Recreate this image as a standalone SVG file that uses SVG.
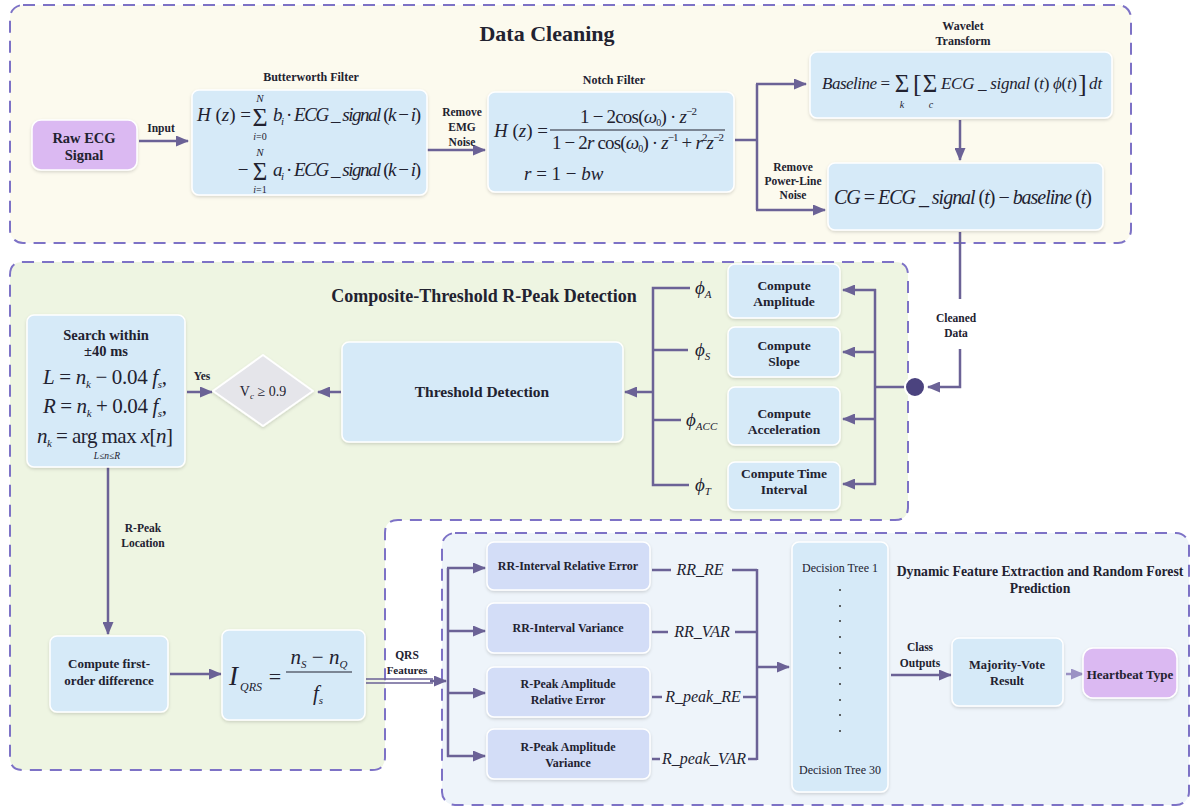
<svg xmlns="http://www.w3.org/2000/svg" width="1194" height="809" viewBox="0 0 1194 809">
<defs>
<style>
text{font-family:"Liberation Serif","Times New Roman",serif;fill:#222230}
.b{font-weight:bold}
.i{font-style:italic}
.lbl{font-size:11.5px;font-weight:bold;text-anchor:middle}
.nd{font-size:13.5px;font-weight:bold;text-anchor:middle}
.fd{font-size:12px;font-weight:bold;text-anchor:middle}
.box{fill:#d6eaf8;stroke:#ffffff;stroke-width:1.5;filter:url(#sh)}
.fbox{fill:#d3ddf7;stroke:#ffffff;stroke-width:1.5;filter:url(#sh)}
.term{fill:#dbb9f2;stroke:#ffffff;stroke-width:1.5;filter:url(#sh)}
.cont{stroke:#7d72c6;stroke-width:2;stroke-dasharray:12 8}
.ln{fill:none;stroke:#6b6296;stroke-width:2.5}
.m{font-style:italic}
.u{font-style:normal}
</style>
<filter id="sh" x="-10%" y="-10%" width="120%" height="130%">
<feDropShadow dx="0" dy="1.5" stdDeviation="1.5" flood-color="#000" flood-opacity="0.15"/>
</filter>
<marker id="arr" markerUnits="userSpaceOnUse" markerWidth="13" markerHeight="11" refX="12" refY="5.5" orient="auto">
<path d="M0,0 L13,5.5 L0,11 z" fill="#6b6296"/>
</marker>
<marker id="arrL" markerUnits="userSpaceOnUse" markerWidth="13" markerHeight="11" refX="12" refY="5.5" orient="auto">
<path d="M0,0 L13,5.5 L0,11 z" fill="#9b92c4"/>
</marker>
</defs>
<rect x="0" y="0" width="1194" height="809" fill="#ffffff"/>

<g id="data-cleaning-container">
<rect class="cont" x="10" y="5" width="1121" height="238" rx="13" fill="#fcfaee"/>
<text x="547" y="41" font-size="22" class="b" text-anchor="middle">Data Cleaning</text>
</g>
<g id="composite-container">
<path class="cont" fill="#eef5e2" d="M10,275 Q10,262 23,262 L895,262 Q908,262 908,275 L908,507 Q908,520 895,520 L398,520 Q385,520 385,533 L385,757 Q385,770 372,770 L23,770 Q10,770 10,757 Z"/>
<text x="484" y="302" font-size="18" class="b" text-anchor="middle">Composite-Threshold  R-Peak  Detection</text>
</g>
<g id="dynamic-container">
<rect class="cont" x="442" y="533" width="747" height="272" rx="13" fill="#eef4fa"/>
<text x="1040" y="576" font-size="13.7" class="b" text-anchor="middle">Dynamic Feature Extraction and Random Forest</text>
<text x="1040" y="593" font-size="13.7" class="b" text-anchor="middle">Prediction</text>
</g>

<g id="connectors">
<path class="ln" d="M139,141 H188" marker-end="url(#arr)"/>
<path class="ln" d="M427,150 H485" marker-end="url(#arr)"/>
<path class="ln" d="M735,140 H757"/>
<path class="ln" d="M757,84 V210"/>
<path class="ln" d="M756,84 H806" marker-end="url(#arr)"/>
<path class="ln" d="M756,210 H825" marker-end="url(#arr)"/>
<path class="ln" d="M960,120 V160" marker-end="url(#arr)"/>
<path class="ln" d="M960,232 V299"/>
<path class="ln" d="M960,349 V387 H928" marker-end="url(#arr)"/>
<path class="ln" d="M905,387 H875"/>
<path class="ln" d="M875,289 V485"/>
<path class="ln" d="M876,290 H843" marker-end="url(#arr)"/>
<path class="ln" d="M876,352 H843" marker-end="url(#arr)"/>
<path class="ln" d="M876,419 H843" marker-end="url(#arr)"/>
<path class="ln" d="M876,484 H843" marker-end="url(#arr)"/>
<path class="ln" d="M690,288 H653 V485 H689"/>
<path class="ln" d="M653,350 H688"/>
<path class="ln" d="M653,420 H681"/>
<path class="ln" d="M653,392 H625" marker-end="url(#arr)"/>
<path class="ln" d="M341,392 H318" marker-end="url(#arr)"/>
<path class="ln" d="M187,392 H212" marker-end="url(#arr)"/>
<path class="ln" d="M108,467 V634" marker-end="url(#arr)"/>
<path class="ln" d="M170,674 H221" marker-end="url(#arr)"/>
<path fill="none" stroke="#6b6296" stroke-width="1.6" d="M366,679 H433 M366,683 H433"/>
<path class="ln" d="M430,681 H446" marker-end="url(#arr)"/>
<path class="ln" d="M448,568 V757"/>
<path class="ln" d="M447,568 H485" marker-end="url(#arr)"/>
<path class="ln" d="M447,631 H485" marker-end="url(#arr)"/>
<path class="ln" d="M447,693 H485" marker-end="url(#arr)"/>
<path class="ln" d="M447,756 H485" marker-end="url(#arr)"/>
<path class="ln" d="M652,570 H671 M732,570 H757 M652,632 H668 M735,632 H757 M652,697 H662 M743,697 H757 M652,759 H660 M748,759 H757"/>
<path class="ln" d="M757,569 V760"/>
<path class="ln" d="M756,667 H789" marker-end="url(#arr)"/>
<path class="ln" d="M891,675 H951" marker-end="url(#arr)"/>
<path fill="none" stroke="#9b92c4" stroke-width="2.5" d="M1066,674 H1083" marker-end="url(#arrL)"/>
</g>

<g id="edge-labels">
<text class="lbl" x="161" y="132">Input</text>
<text class="lbl" x="462" y="116">Remove</text>
<text class="lbl" x="462" y="131">EMG</text>
<text class="lbl" x="462" y="146">Noise</text>
<text class="lbl" x="793" y="171">Remove</text>
<text class="lbl" x="793" y="185">Power-Line</text>
<text class="lbl" x="793" y="199">Noise</text>
<text class="lbl" x="956" y="322">Cleaned</text>
<text class="lbl" x="956" y="337">Data</text>
<text class="lbl" x="202" y="380">Yes</text>
<text class="lbl" x="143" y="532">R-Peak</text>
<text class="lbl" x="143" y="547">Location</text>
<text class="lbl" x="407" y="659">QRS</text>
<text class="lbl" x="407" y="674" style="font-size:11px">Features</text>
<text class="lbl" x="920" y="651">Class</text>
<text class="lbl" x="920" y="667">Outputs</text>
<text x="695" y="294" font-size="19" class="i">ϕ<tspan font-size="11" dy="4">A</tspan></text>
<text x="695" y="356" font-size="19" class="i">ϕ<tspan font-size="11" dy="4">S</tspan></text>
<text x="686" y="426" font-size="19" class="i">ϕ<tspan font-size="11" dy="4">ACC</tspan></text>
<text x="695" y="491" font-size="19" class="i">ϕ<tspan font-size="11" dy="4">T</tspan></text>
<text x="700" y="575" font-size="16" class="i" text-anchor="middle">RR_RE</text>
<text x="702" y="637" font-size="16" class="i" text-anchor="middle">RR_VAR</text>
<text x="703" y="702" font-size="16" class="i" text-anchor="middle">R_peak_RE</text>
<text x="704" y="764" font-size="16" class="i" text-anchor="middle">R_peak_VAR</text>
</g>

<g id="raw-ecg">
<rect class="term" x="32" y="120" width="105" height="50" rx="9"/>
<text class="nd" style="font-size:14.5px" x="84" y="143">Raw ECG</text>
<text class="nd" style="font-size:14.5px" x="84" y="160">Signal</text>
</g>

<g id="butterworth">
<text x="311" y="81" font-size="12" class="b" text-anchor="middle">Butterworth Filter</text>
<rect class="box" x="192" y="90" width="235" height="105" rx="7"/>
<text x="197" y="121" font-size="19" class="m">H<tspan class="u"> (</tspan>z<tspan class="u">) =</tspan></text>
<text x="260" y="126" font-size="26" text-anchor="middle">Σ</text>
<text x="260" y="102" font-size="11" class="m" text-anchor="middle">N</text>
<text x="260" y="140" font-size="10" class="m" text-anchor="middle">i<tspan class="u">=0</tspan></text>
<text x="273" y="121" font-size="19" class="m" textLength="148">b<tspan font-size="11" dy="4">i</tspan><tspan dy="-4" class="u"> · </tspan>ECG _ signal<tspan class="u"> (</tspan>k<tspan class="u"> − </tspan>i<tspan class="u">)</tspan></text>
<text x="243" y="176" font-size="19" text-anchor="middle">−</text>
<text x="260" y="180" font-size="25" text-anchor="middle">Σ</text>
<text x="260" y="156" font-size="11" class="m" text-anchor="middle">N</text>
<text x="260" y="193" font-size="10" class="m" text-anchor="middle">i<tspan class="u">=1</tspan></text>
<text x="273" y="176" font-size="19" class="m" textLength="148">a<tspan font-size="11" dy="4">i</tspan><tspan dy="-4" class="u"> · </tspan>ECG _ signal<tspan class="u"> (</tspan>k<tspan class="u"> − </tspan>i<tspan class="u">)</tspan></text>
</g>

<g id="notch">
<text x="614" y="84" font-size="12" class="b" text-anchor="middle">Notch Filter</text>
<rect class="box" x="488" y="92" width="246" height="100" rx="7"/>
<text x="494" y="137" font-size="19" class="m">H<tspan class="u"> (</tspan>z<tspan class="u">) =</tspan></text>
<text x="580" y="123" font-size="19" textLength="117">1 − 2cos(<tspan class="m">ω</tspan><tspan font-size="10" dy="3">0</tspan><tspan dy="-3">) · </tspan><tspan class="m">z</tspan><tspan font-size="11" dy="-8">−2</tspan></text>
<line x1="550" y1="130" x2="725" y2="130" stroke="#222230" stroke-width="1.2"/>
<text x="552" y="149" font-size="19" textLength="172">1 − 2<tspan class="m">r</tspan> cos(<tspan class="m">ω</tspan><tspan font-size="10" dy="3">0</tspan><tspan dy="-3">) · </tspan><tspan class="m">z</tspan><tspan font-size="11" dy="-8">−1</tspan><tspan dy="8"> + </tspan><tspan class="m">r</tspan><tspan font-size="11" dy="-8">2</tspan><tspan class="m" dy="8">z</tspan><tspan font-size="11" dy="-8">−2</tspan></text>
<text x="524" y="180" font-size="19"><tspan class="m">r</tspan> = 1 − <tspan class="m">bw</tspan></text>
</g>

<g id="wavelet">
<text x="963" y="30" font-size="12" class="b" text-anchor="middle">Wavelet</text>
<text x="963" y="45" font-size="12" class="b" text-anchor="middle">Transform</text>
<rect class="box" x="810" y="52" width="302" height="66" rx="7"/>
<text x="822" y="89" font-size="17" class="m" textLength="68">Baseline <tspan class="u">=</tspan></text>
<text x="902" y="92" font-size="25" text-anchor="middle">Σ</text>
<text x="902" y="108" font-size="10" class="m" text-anchor="middle">k</text>
<text x="913" y="92" font-size="26">[</text>
<text x="930" y="92" font-size="25" text-anchor="middle">Σ</text>
<text x="931" y="108" font-size="10" class="m" text-anchor="middle">c</text>
<text x="941" y="89" font-size="17" class="m" textLength="136">ECG _ signal<tspan class="u"> (</tspan>t<tspan class="u">) </tspan>ϕ<tspan class="u">(</tspan>t<tspan class="u">)</tspan></text>
<text x="1078" y="92" font-size="26">]</text>
<text x="1089" y="89" font-size="17" class="m">dt</text>
</g>

<g id="cg">
<rect class="box" x="828" y="163" width="275" height="67" rx="7"/>
<text x="834" y="204" font-size="20" class="m" textLength="258">CG <tspan class="u">=</tspan> ECG _ signal<tspan class="u"> (</tspan>t<tspan class="u">) − </tspan>baseline<tspan class="u"> (</tspan>t<tspan class="u">)</tspan></text>
</g>

<g id="junction">
<circle cx="915" cy="387" r="10" fill="#4b437f" stroke="#ffffff" stroke-width="2"/>
</g>

<g id="compute-amplitude">
<rect class="box" x="728" y="264" width="112" height="54" rx="7"/>
<text class="nd" x="784" y="290">Compute</text>
<text class="nd" x="784" y="306">Amplitude</text>
</g>
<g id="compute-slope">
<rect class="box" x="728" y="327" width="112" height="50" rx="7"/>
<text class="nd" x="784" y="350">Compute</text>
<text class="nd" x="784" y="366">Slope</text>
</g>
<g id="compute-acceleration">
<rect class="box" x="728" y="387" width="112" height="58" rx="7"/>
<text class="nd" x="784" y="418">Compute</text>
<text class="nd" x="784" y="434">Acceleration</text>
</g>
<g id="compute-time">
<rect class="box" x="728" y="462" width="112" height="48" rx="7"/>
<text class="nd" x="784" y="478">Compute Time</text>
<text class="nd" x="784" y="494">Interval</text>
</g>

<g id="threshold">
<rect class="box" x="342" y="342" width="281" height="100" rx="7"/>
<text class="nd" style="font-size:15.5px" x="482" y="397">Threshold Detection</text>
</g>

<g id="decision">
<path d="M263,355 L313,391 L263,426 L213,391 Z" fill="#e5e5ea" stroke="#ffffff" stroke-width="2" stroke-linejoin="round" filter="url(#sh)"/>
<text x="263" y="396" font-size="14" text-anchor="middle">V<tspan class="m" font-size="9" dy="3">c</tspan><tspan dy="-3"> ≥ 0.9</tspan></text>
</g>

<g id="search">
<rect class="box" x="27" y="315" width="158" height="152" rx="7"/>
<text class="nd" style="font-size:14.5px" x="106" y="340">Search within</text>
<text class="nd" style="font-size:14.5px" x="106" y="356">±40 ms</text>
<text x="43" y="384" font-size="21" textLength="124"><tspan class="m">L</tspan> = <tspan class="m">n</tspan><tspan class="m" font-size="11" dy="4">k</tspan><tspan dy="-4"> − 0.04</tspan><tspan class="m"> f</tspan><tspan class="m" font-size="11" dy="4">s</tspan><tspan dy="-4">,</tspan></text>
<text x="43" y="413" font-size="21" textLength="124"><tspan class="m">R</tspan> = <tspan class="m">n</tspan><tspan class="m" font-size="11" dy="4">k</tspan><tspan dy="-4"> + 0.04</tspan><tspan class="m"> f</tspan><tspan class="m" font-size="11" dy="4">s</tspan><tspan dy="-4">,</tspan></text>
<text x="37" y="443" font-size="21" textLength="136"><tspan class="m">n</tspan><tspan class="m" font-size="11" dy="4">k</tspan><tspan dy="-4"> = arg max </tspan><tspan class="m">x</tspan>[<tspan class="m">n</tspan>]</text>
<text x="107" y="459" font-size="9.5" class="m" text-anchor="middle">L≤n≤R</text>
</g>

<g id="first-order">
<rect class="box" x="50" y="636" width="118" height="76" rx="7"/>
<text class="nd" style="font-size:13px" x="109" y="668">Compute first-</text>
<text class="nd" style="font-size:13px" x="109" y="685">order difference</text>
</g>

<g id="iqrs">
<rect class="box" x="222" y="630" width="143" height="90" rx="7"/>
<text x="229" y="685" font-size="27" class="m">I</text>
<text x="240" y="691" font-size="12" class="m">QRS</text>
<text x="275" y="684" font-size="22" text-anchor="middle">=</text>
<text x="319" y="664" font-size="21" class="m" text-anchor="middle">n<tspan font-size="11" dy="4">S</tspan><tspan class="u" dy="-4"> − </tspan>n<tspan font-size="11" dy="4">Q</tspan></text>
<line x1="286" y1="672" x2="352" y2="672" stroke="#222230" stroke-width="1.2"/>
<text x="318" y="700" font-size="21" class="m" text-anchor="middle">f<tspan font-size="11" dy="4">s</tspan></text>
</g>

<g id="rr-re">
<rect class="fbox" x="487" y="542" width="163" height="48" rx="7"/>
<text class="fd" x="568" y="570">RR-Interval Relative Error</text>
</g>
<g id="rr-var">
<rect class="fbox" x="487" y="603" width="163" height="50" rx="7"/>
<text class="fd" x="568" y="632">RR-Interval Variance</text>
</g>
<g id="rpeak-re">
<rect class="fbox" x="487" y="667" width="163" height="50" rx="7"/>
<text class="fd" x="568" y="688">R-Peak Amplitude</text>
<text class="fd" x="568" y="704">Relative Error</text>
</g>
<g id="rpeak-var">
<rect class="fbox" x="487" y="729" width="163" height="50" rx="7"/>
<text class="fd" x="568" y="751">R-Peak Amplitude</text>
<text class="fd" x="568" y="767">Variance</text>
</g>

<g id="forest">
<rect class="box" x="792" y="542" width="96" height="250" rx="7"/>
<text x="840" y="572" font-size="12" text-anchor="middle">Decision Tree 1</text>
<g fill="#333">
<circle cx="840" cy="590" r="1"/><circle cx="840" cy="606" r="1"/><circle cx="840" cy="621" r="1"/><circle cx="840" cy="637" r="1"/><circle cx="840" cy="653" r="1"/><circle cx="840" cy="668" r="1"/><circle cx="840" cy="684" r="1"/><circle cx="840" cy="700" r="1"/><circle cx="840" cy="715" r="1"/><circle cx="840" cy="731" r="1"/>
</g>
<text x="840" y="774" font-size="12" text-anchor="middle">Decision Tree 30</text>
</g>

<g id="majority">
<rect class="box" x="952" y="638" width="111" height="68" rx="7"/>
<text class="nd" style="font-size:12.5px" x="1007" y="669">Majority-Vote</text>
<text class="nd" style="font-size:12.5px" x="1007" y="685">Result</text>
</g>

<g id="heartbeat">
<rect class="term" x="1083" y="648" width="94" height="50" rx="10"/>
<text class="nd" style="font-size:13px" x="1130" y="679">Heartbeat Type</text>
</g>
</svg>
